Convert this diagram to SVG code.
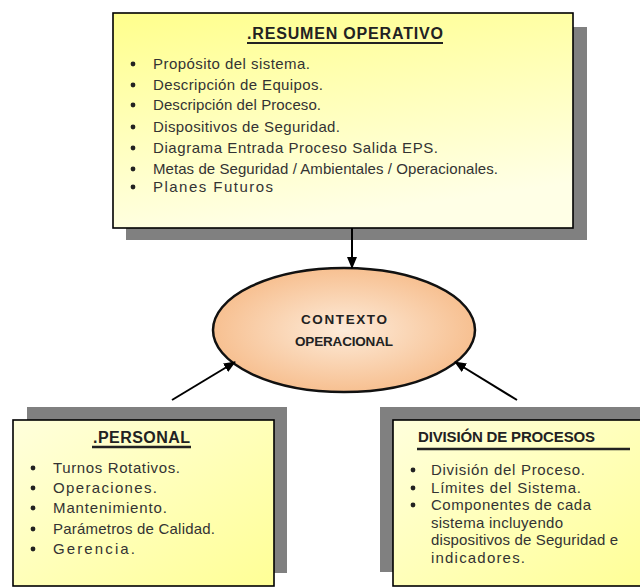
<svg xmlns="http://www.w3.org/2000/svg" width="640" height="588" viewBox="0 0 640 588">
  <defs>
    <linearGradient id="gTop" x1="0" y1="0" x2="0.3" y2="1">
      <stop offset="0" stop-color="#ffff8c"/>
      <stop offset="1" stop-color="#ffffe6"/>
    </linearGradient>
    <linearGradient id="gBot" x1="0" y1="0" x2="1" y2="1">
      <stop offset="0" stop-color="#ffffdc"/>
      <stop offset="1" stop-color="#ffff96"/>
    </linearGradient>
    <radialGradient id="gEll" cx="0.5" cy="0.5" r="0.5">
      <stop offset="0" stop-color="#fdebd9"/>
      <stop offset="1" stop-color="#f7c091"/>
    </radialGradient>
    <marker id="arr" viewBox="0 0 12 10" refX="11" refY="5" markerWidth="6" markerHeight="5" orient="auto" markerUnits="strokeWidth">
      <path d="M0,0 L12,5 L0,10 Z" fill="#000"/>
    </marker>
  </defs>
  <style>
    .shadow { fill: #808080; }
    .box { stroke: #000; stroke-width: 1.6; }
    .t { font-family: "Liberation Sans", Arial, sans-serif; font-size: 15px; fill: #333; }
    .h { font-family: "Liberation Sans", Arial, sans-serif; font-weight: bold; fill: #222; }
    .b { fill: #222; }
    .ul { stroke: #222; }
    .conn { stroke: #000; stroke-width: 2; fill: none; marker-end: url(#arr); }
  </style>
  <rect width="640" height="588" fill="#fff"/>

  <g id="resumen">
    <rect class="shadow" x="126" y="27" width="461" height="213"/>
    <rect class="box" x="113" y="13" width="460" height="215" fill="url(#gTop)"/>
    <text class="h" x="247" y="39" font-size="16" textLength="196">.RESUMEN OPERATIVO</text>
    <line class="ul" x1="247" y1="43" x2="443" y2="43" stroke-width="1.8"/>
    <g class="b">
      <circle cx="133" cy="64" r="2.4"/>
      <circle cx="133" cy="85" r="2.4"/>
      <circle cx="133" cy="105" r="2.4"/>
      <circle cx="133" cy="127" r="2.4"/>
      <circle cx="133" cy="148" r="2.4"/>
      <circle cx="133" cy="169" r="2.4"/>
      <circle cx="133" cy="187" r="2.4"/>
    </g>
    <text class="t" x="153" y="69" textLength="157">Propósito del sistema.</text>
    <text class="t" x="153" y="90" textLength="170">Descripción de Equipos.</text>
    <text class="t" x="153" y="110" textLength="168">Descripción del Proceso.</text>
    <text class="t" x="153" y="132" textLength="187">Dispositivos de Seguridad.</text>
    <text class="t" x="153" y="153" textLength="285">Diagrama Entrada Proceso Salida EPS.</text>
    <text class="t" x="153" y="174" textLength="345">Metas de Seguridad / Ambientales / Operacionales.</text>
    <text class="t" x="153" y="192" textLength="120">Planes Futuros</text>
  </g>

  <g id="contexto">
    <ellipse cx="344" cy="330" rx="131" ry="62" fill="url(#gEll)" stroke="#111" stroke-width="2.5"/>
    <text class="h" x="301" y="324" font-size="13.5" textLength="86">CONTEXTO</text>
    <text class="h" x="295" y="346" font-size="13.5" textLength="98">OPERACIONAL</text>
  </g>

  <g id="personal">
    <rect class="shadow" x="27" y="407" width="260" height="166"/>
    <rect class="box" x="13" y="420" width="261" height="166" fill="url(#gBot)"/>
    <text class="h" x="93" y="443" font-size="16" textLength="97">.PERSONAL</text>
    <line class="ul" x1="92" y1="447" x2="191" y2="447" stroke-width="2.5"/>
    <g class="b">
      <circle cx="33" cy="468" r="2.4"/>
      <circle cx="33" cy="488" r="2.4"/>
      <circle cx="33" cy="508" r="2.4"/>
      <circle cx="33" cy="529" r="2.4"/>
      <circle cx="33" cy="549" r="2.4"/>
    </g>
    <text class="t" x="53" y="473" textLength="127">Turnos Rotativos.</text>
    <text class="t" x="53" y="493" textLength="104">Operaciones.</text>
    <text class="t" x="53" y="513" textLength="114">Mantenimiento.</text>
    <text class="t" x="53" y="534" textLength="162">Parámetros de Calidad.</text>
    <text class="t" x="53" y="554" textLength="82">Gerencia.</text>
  </g>

  <g id="division">
    <rect class="shadow" x="380" y="407" width="270" height="165"/>
    <rect class="box" x="393" y="420" width="260" height="166" fill="url(#gBot)"/>
    <text class="h" x="418" y="442" font-size="15" textLength="177">DIVISIÓN DE PROCESOS</text>
    <line class="ul" x1="417" y1="449" x2="630" y2="449" stroke-width="2.5"/>
    <g class="b">
      <circle cx="413" cy="470" r="2.4"/>
      <circle cx="413" cy="488" r="2.4"/>
      <circle cx="413" cy="505" r="2.4"/>
    </g>
    <text class="t" x="431" y="475" textLength="154">División del Proceso.</text>
    <text class="t" x="431" y="493" textLength="150">Límites del Sistema.</text>
    <text class="t" x="431" y="510" textLength="160">Componentes de cada</text>
    <text class="t" x="431" y="528" textLength="132">sistema incluyendo</text>
    <text class="t" x="431" y="545" textLength="187">dispositivos de Seguridad e</text>
    <text class="t" x="431" y="563" textLength="94">indicadores.</text>
  </g>

  <g id="connectors">
    <line class="conn" x1="352" y1="228" x2="352" y2="268"/>
    <line class="conn" x1="172" y1="400" x2="235" y2="362"/>
    <line class="conn" x1="517" y1="400" x2="455" y2="362"/>
  </g>
</svg>
